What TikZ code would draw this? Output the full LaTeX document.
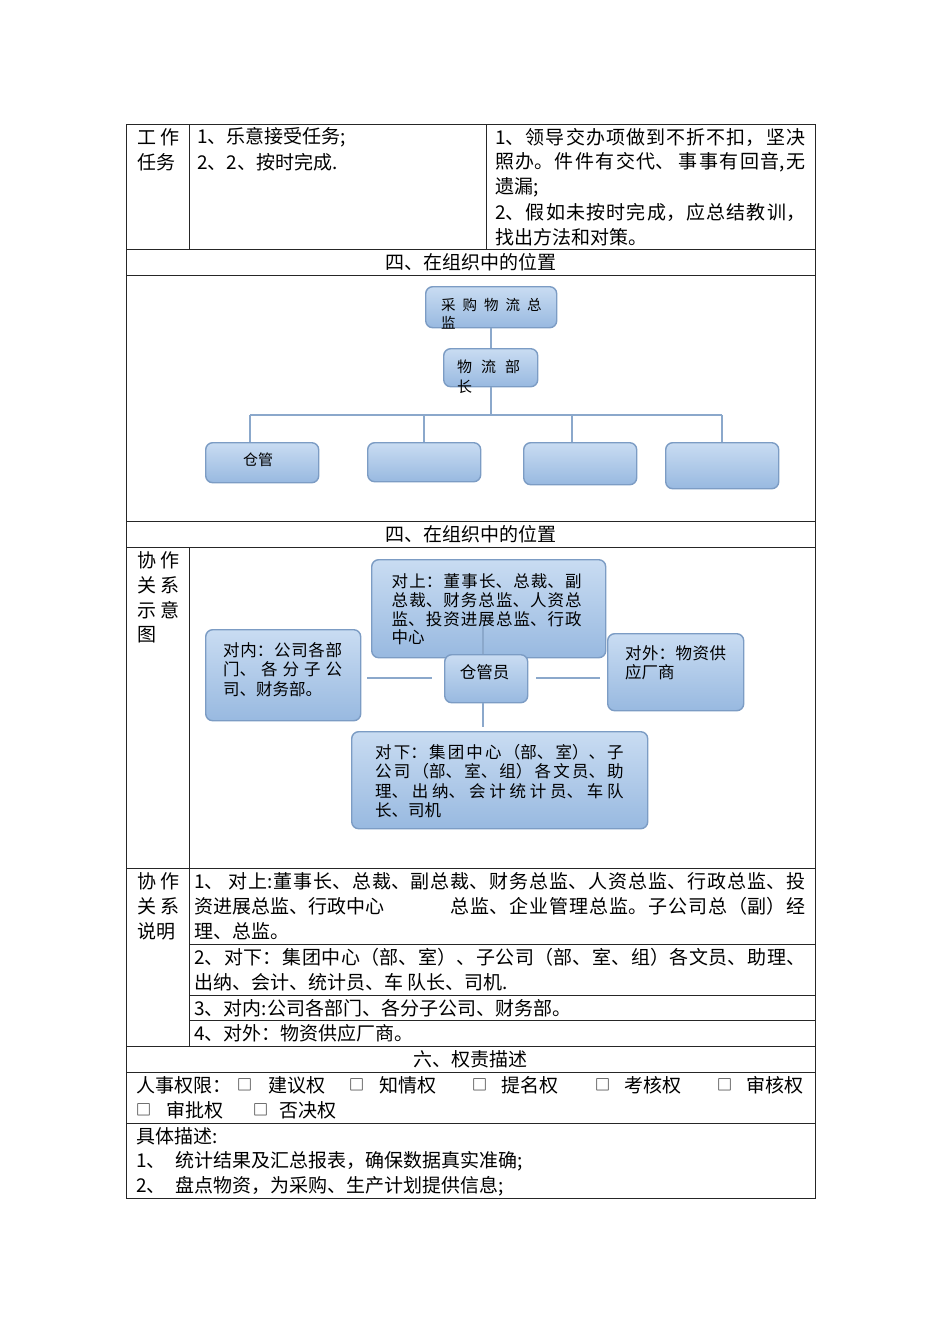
\documentclass[tikz,border=0pt]{standalone}
\usepackage{fontspec}
\setmainfont{Noto Sans CJK SC}
\XeTeXlinebreaklocale "zh"
\XeTeXlinebreakskip=0pt plus 20pt
\setlength{\parindent}{0pt}
\tolerance=10000
\hbadness=10000
\definecolor{boxtop}{HTML}{C9DCF2}
\definecolor{boxbot}{HTML}{98B9E0}
\definecolor{boxline}{HTML}{7C9CC4}
\definecolor{conncol}{HTML}{8BA8CB}
\newcommand\fA{\fontsize{19}{25}\selectfont}
\newcommand\fB{\fontsize{16.5}{19.3}\selectfont}
\newcommand\fC{\fontsize{14.5}{17}\selectfont}
\newcommand\fD{\fontsize{15}{17}\selectfont}
\newcommand\jl[2]{\parbox{#1}{\parfillskip=0pt\relax #2}}
\begin{document}
\begin{tikzpicture}[x=1pt,y=-1pt,
  tl/.style={draw=black!85, line width=0.9pt},
  t/.style={anchor=west, inner sep=0pt, font=\fA},
  hd/.style={inner sep=0pt, font=\fA},
  bt/.style={anchor=west, inner sep=0pt, font=\fB},
  ct/.style={anchor=west, inner sep=0pt, font=\fC},
  box/.style={draw=boxline, line width=1.4pt, rounded corners=7pt,
     top color=boxtop, bottom color=boxbot, inner sep=0pt, anchor=north west},
  conn/.style={draw=conncol, line width=1.8pt},
  chk/.style={anchor=west, inner sep=0pt, font=\fD}
]
\useasboundingbox (0,0) rectangle (950,1344);
\fill[white] (0,0) rectangle (950,1344);

% ---------------- table lines ----------------
\draw[tl] (126,124) rectangle (815,1198);
\foreach \yy in {249,275,521,547,868,1046,1072,1123}
  \draw[tl] (126,\yy) -- (815,\yy);
\foreach \yy in {944,995,1020}
  \draw[tl] (189,\yy) -- (815,\yy);
\draw[tl] (189,124) -- (189,249);
\draw[tl] (486,124) -- (486,249);
\draw[tl] (189,547) -- (189,1046);

% ---------------- row 1 ----------------
\node[t] (l1a) at (137,137) {\jl{42pt}{工 作}};
\node[t] (l1b) at (137,162) {任务};
\node[t] (r1a) at (197,137) {1、乐意接受任务;};
\node[t] (r1b) at (197,162) {2、2、按时完成.};
\node[t] (r1c) at (495,137) {\jl{310pt}{1、领导交办项做到不折不扣，坚决}};
\node[t] (r1d) at (495,162) {\jl{310pt}{照办。件件有交代、 事事有回音,无}};
\node[t] (r1e) at (495,187) {遗漏;};
\node[t] (r1f) at (495,212) {\jl{310pt}{2、假如未按时完成，应总结教训，}};
\node[t] (r1g) at (495,237) {找出方法和对策。};

\node[hd] (h1) at (470.5,262) {四、在组织中的位置};

% ---------------- org chart ----------------
\node[box, minimum width=131, minimum height=41] (zj) at (425,286) {};
\node[box, minimum width=94, minimum height=38] (bz) at (443,348) {};
\node[box, minimum width=113, minimum height=40] (c1) at (205,442) {};
\node[box, minimum width=113, minimum height=39] (c2) at (367,442) {};
\node[box, minimum width=113, minimum height=42] (c3) at (523,442) {};
\node[box, minimum width=113, minimum height=46] (c4) at (665,442) {};
\coordinate (busL) at (250,415);
\coordinate (busR) at (722,415);
\coordinate (d3) at (572,415);
\draw[conn] (zj.south) -- (zj.south |- bz.north);
\draw[conn] (bz.south) -- (bz.south |- busL);
\draw[conn] (busL) -- (busR);
\draw[conn] (busL) -- (busL |- c1.north);
\draw[conn] (c2.north |- busL) -- (c2.north);
\draw[conn] (d3) -- (d3 |- c3.north);
\draw[conn] (c4.north |- busL) -- (c4.north);
\node[ct] (zjt1) at (441,305) {采\kern7pt 购\kern7pt 物\kern7pt 流\kern7pt 总};
\node[ct] (zjt2) at (441,323) {监};
\node[ct, font=\fD] (bzt1) at (457,367) {物\kern9pt 流\kern9pt 部};
\node[ct, font=\fD] (bzt2) at (457,387) {长};
\node[inner sep=0pt, font=\fD] (c1t) at (258,460) {仓管};

\node[hd] (h2) at (470.5,534) {四、在组织中的位置};

% ---------------- collaboration diagram ----------------
\node[t] (l5a) at (137,560.5) {\jl{42pt}{协 作}};
\node[t] (l5b) at (137,585.5) {\jl{42pt}{关 系}};
\node[t] (l5c) at (137,610) {\jl{42pt}{示 意}};
\node[t] (l5d) at (137,634.5) {图};

\node[box, minimum width=234, minimum height=98] (ts) at (371,559) {};
\node[box, minimum width=155, minimum height=91] (tn) at (205,629) {};
\node[box, minimum width=136, minimum height=77] (tw) at (607,633) {};
\node[box, minimum width=296, minimum height=97] (tx) at (351,731) {};
\node[box, minimum width=83, minimum height=48] (cg) at (444,654) {};
\coordinate (tsIn) at (483,626);
\coordinate (txIn) at (483,727);
\coordinate (lA) at (367,678);
\coordinate (lB) at (432,678);
\coordinate (rA) at (536,678);
\coordinate (rB) at (600,678);
\draw[conn] (cg.north -| tsIn) -- (tsIn);
\draw[conn] (cg.south -| txIn) -- (txIn);
\draw[conn] (lA) -- (lB);
\draw[conn] (rA) -- (rB);

\node[bt] (tst1) at (391.5,581.5) {\jl{190pt}{对上：董事长、总裁、副}};
\node[bt] (tst2) at (391.5,600.5) {\jl{190pt}{总裁、财务总监、人资总}};
\node[bt] (tst3) at (391.5,619.5) {\jl{190pt}{监、投资进展总监、行政}};
\node[bt] (tst4) at (391.5,637.5) {中心};

\node[bt] (tnt1) at (223,650) {\jl{119pt}{对内：公司各部}};
\node[bt] (tnt2) at (223,669.5) {\jl{119pt}{门、各分子公}};
\node[bt] (tnt3) at (223,688.7) {司、财务部。};

\node[bt] (twt1) at (625,653.7) {\jl{101pt}{对外：物资供}};
\node[bt] (twt2) at (625,672.7) {应厂商};

\node[bt] (txt1) at (375,752.7) {\jl{248.5pt}{对下：集团中心（部、室）、子}};
\node[bt] (txt2) at (375,771.7) {\jl{248.5pt}{公司（部、室、组）各文员、助}};
\node[bt] (txt3) at (375,791) {\jl{248.5pt}{理、出纳、会计统计员、车队}};
\node[bt] (txt4) at (375,810.3) {长、司机};

\node[inner sep=0pt, font=\fB] (cgt) at (484.5,672.7) {仓管员};

% ---------------- row 6 ----------------
\node[t] (l6a) at (137,881.5) {\jl{42pt}{协 作}};
\node[t] (l6b) at (137,906.5) {\jl{42pt}{关 系}};
\node[t] (l6c) at (137,931.5) {说明};

\node[t] (s1a) at (194,881.5) {\jl{611pt}{1、 对上:董事长、总裁、副总裁、财务总监、人资总监、行政总监、投}};
\node[t] (s1b) at (194,906.5) {资进展总监、行政中心};
\node[t] (s1c) at (450,906.5) {\jl{355pt}{总监、企业管理总监。子公司总（副）经}};
\node[t] (s1d) at (194,931.5) {理、总监。};
\node[t] (s2a) at (194,957) {\jl{611pt}{2、对下：集团中心（部、室）、子公司（部、室、组）各文员、助理、}};
\node[t] (s2b) at (194,982) {出纳、会计、统计员、车 队长、司机.};
\node[t] (s3) at (194,1008) {3、对内:公司各部门、各分子公司、财务部。};
\node[t] (s4) at (194,1033) {4、对外：物资供应厂商。};

\node[hd] (h3) at (470.5,1059) {六、权责描述};

% ---------------- row 8 ----------------
\node[t] (p0) at (136,1085) {人事权限：};
\node[chk] (k1) at (237,1085) {□};
\node[t] (p1) at (268,1085) {建议权};
\node[chk] (k2) at (349,1085) {□};
\node[t] (p2) at (379,1085) {知情权};
\node[chk] (k3) at (472,1085) {□};
\node[t] (p3) at (501,1085) {提名权};
\node[chk] (k4) at (595,1085) {□};
\node[t] (p4) at (624,1085) {考核权};
\node[chk] (k5) at (717,1085) {□};
\node[t] (p5) at (746,1085) {审核权};
\node[chk] (k6) at (136,1110) {□};
\node[t] (p6) at (166,1110) {审批权};
\node[chk] (k7) at (253,1110) {□};
\node[t] (p7) at (279,1110) {否决权};

% ---------------- row 9 ----------------
\node[t] (q0) at (136,1136) {具体描述:};
\node[t] (q1n) at (136,1161) {1、};
\node[t] (q1) at (175,1161) {统计结果及汇总报表，确保数据真实准确;};
\node[t] (q2n) at (136,1186) {2、};
\node[t] (q2) at (175,1186) {盘点物资，为采购、生产计划提供信息;};
\end{tikzpicture}
\end{document}
